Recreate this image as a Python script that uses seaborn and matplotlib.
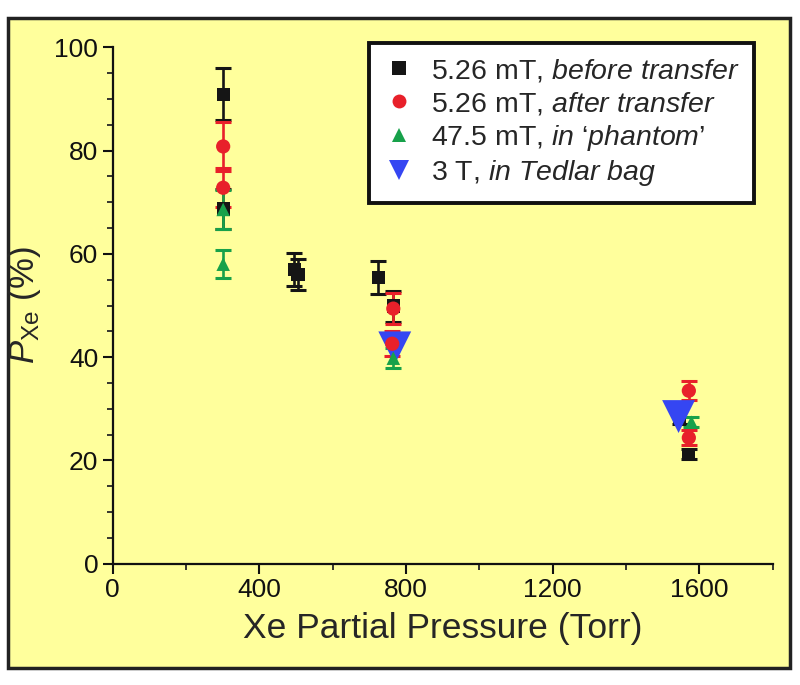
import matplotlib
matplotlib.use("Agg")
import matplotlib.pyplot as plt
import pandas as pd
import seaborn as sns
from matplotlib.lines import Line2D
from matplotlib.patches import Rectangle
from matplotlib.ticker import MultipleLocator

# data
series_names = ["before", "after", "phantom", "tedlar"]

before_x = [301, 301, 495, 505, 724, 765, 1546, 1571]
before_y = [90.9, 68.7, 57.0, 56.0, 55.5, 49.9, 28.5, 21.2]
before_err = [5.0, 3.8, 3.2, 3.0, 3.2, 3.0, 1.5, 1.0]

after_x = [301, 301, 765, 762, 1571, 1571]
after_y = [80.8, 72.8, 49.4, 42.6, 33.5, 24.4]
after_err = [4.7, 3.8, 3.0, 2.4, 1.8, 1.5]

phantom_x = [301, 301, 765, 1578]
phantom_y = [68.6, 58.0, 39.8, 27.4]
phantom_err = [3.8, 2.7, 1.9, 1.0]

tedlar_x = [769, 1543]
tedlar_y = [41.8, 28.5]

legend_labels = [
    r"5.26 mT, $\mathit{before\ transfer}$",
    r"5.26 mT, $\mathit{after\ transfer}$",
    r"47.5 mT, $\mathit{in\ ‘phantom’}$",
    r"3 T, $\mathit{in\ Tedlar\ bag}$",
]

colors = {"before": "#151515", "after": "#e8202a", "phantom": "#17a14a", "tedlar": "#3546f2"}
markers = {"before": "s", "after": "o", "phantom": "^", "tedlar": "v"}
sizes = {"before": 90, "after": 105, "phantom": 95, "tedlar": 560}

sns.set_style("ticks")
plt.rcParams["font.family"] = ["Liberation Sans", "DejaVu Sans"]
plt.rcParams["mathtext.fontset"] = "custom"
plt.rcParams["mathtext.rm"] = "Liberation Sans"
plt.rcParams["mathtext.it"] = "Liberation Sans:italic"

yellow = "#ffff9c"
fig = plt.figure(figsize=(8, 6.85), dpi=100, facecolor="white")
fig.patches.append(Rectangle((0.01, 0.025), 0.978, 0.948, transform=fig.transFigure,
                             facecolor=yellow, edgecolor="#222222", linewidth=2.5, zorder=-10))
ax = fig.add_axes([0.141, 0.177, 0.825, 0.754])
ax.set_facecolor("none")

frames = []
for name, xs, ys in [("before", before_x, before_y), ("after", after_x, after_y),
                     ("phantom", phantom_x, phantom_y), ("tedlar", tedlar_x, tedlar_y)]:
    frames.append(pd.DataFrame({"series": name, "x": xs, "y": ys}))
df = pd.concat(frames, ignore_index=True)

errs = {"before": (before_x, before_y, before_err), "after": (after_x, after_y, after_err),
        "phantom": (phantom_x, phantom_y, phantom_err)}
for i, name in enumerate(["before", "after", "phantom"]):
    xs, ys, es = errs[name]
    ax.errorbar(xs, ys, yerr=es, fmt="none", ecolor=colors[name], elinewidth=1.9,
                capsize=5.5, capthick=2.2, zorder=2 + i)

order = ["before", "tedlar", "after", "phantom"]
for i, name in enumerate(order):
    sub = df[df["series"] == name]
    sns.scatterplot(data=sub, x="x", y="y", ax=ax, color=colors[name], marker=markers[name],
                    s=sizes[name], edgecolor="none", linewidth=0, legend=False, zorder=5 + i)

ax.set_xlim(0, 1800)
ax.set_ylim(0, 100)
ax.xaxis.set_major_locator(MultipleLocator(400))
ax.xaxis.set_minor_locator(MultipleLocator(200))
ax.yaxis.set_major_locator(MultipleLocator(20))
ax.yaxis.set_minor_locator(MultipleLocator(5))
ax.tick_params(which="major", length=7, width=1.5, labelsize=19, colors="#111111")
ax.tick_params(which="minor", length=4, width=1.3)
for side in ["top", "right"]:
    ax.spines[side].set_visible(False)
for side in ["left", "bottom"]:
    ax.spines[side].set_linewidth(1.6)
    ax.spines[side].set_color("#111111")

ax.set_xlabel("Xe Partial Pressure (Torr)", fontsize=25.5, labelpad=7)
ax.set_ylabel(r"$\mathit{P}_{\mathrm{Xe}}$ (%)", fontsize=25, labelpad=8)

handles = [Line2D([], [], linestyle="none", marker=markers[n], color=colors[n],
                  markersize=10 if n != "tedlar" else 14, markeredgewidth=0)
           for n in series_names]
leg = ax.legend(handles, legend_labels, loc="upper right", bbox_to_anchor=(0.972, 1.008),
                fontsize=20.5, frameon=True, fancybox=False, handletextpad=0.6,
                labelspacing=0.2, borderpad=0.5, handlelength=1.1, borderaxespad=0)
leg.get_frame().set_edgecolor("#111111")
leg.get_frame().set_linewidth(2.8)
leg.get_frame().set_facecolor("white")
leg.get_frame().set_alpha(1)

fig.savefig("out.png", dpi=100, facecolor="white")
